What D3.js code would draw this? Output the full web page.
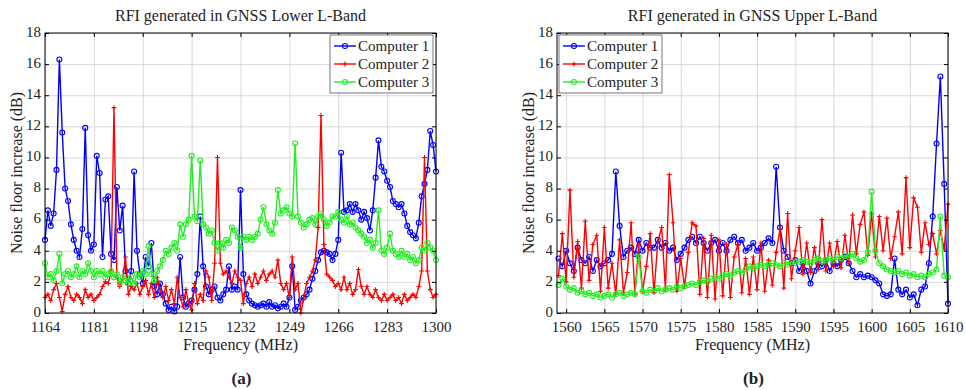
<!DOCTYPE html>
<html>
<head>
<meta charset="utf-8">
<script src="https://cdn.jsdelivr.net/npm/d3@7"></script>
<style>
  body { margin: 0; background: #fff; }
  text { font-family: "Liberation Serif", "Times New Roman", serif; fill: #222; }
</style>
</head>
<body>
<svg id="chart" width="966" height="390"></svg>
<script>
// ---- data (noise floor increase in dB) ----
const seriesNames = ["Computer 1", "Computer 2", "Computer 3"];
const seriesColors = ["#0000ff", "#ff0000", "#22ee22"];
const yTicks = [0, 2, 4, 6, 8, 10, 12, 14, 16, 18];

// lower L-band, 1164..1300 MHz every 1 MHz
const leftFreq = d3.range(1164, 1301, 1);
const leftTicks = [1164, 1181, 1198, 1215, 1232, 1249, 1266, 1283, 1300];
const leftC1 = [
  4.7, 6.6, 5.6, 6.4, 9.2, 16.3, 11.6, 8.0, 7.2, 5.7,   // 1164
  4.7, 4.0, 3.6, 5.4, 11.9, 5.0, 4.0, 4.4, 10.1, 9.0,   // 1174
  3.6, 7.3, 7.5, 3.8, 3.4, 8.1, 5.3, 6.9, 2.7, 1.9,     // 1184
  2.7, 9.1, 4.0, 2.5, 1.9, 3.6, 3.0, 4.5, 1.7, 1.2,     // 1194
  1.9, 1.2, 0.6, 0.2, 0.4, 0.1, 0.4, 3.6, 1.0, 0.4,     // 1204
  0.6, 0.8, 1.5, 2.5, 6.2, 3.0, 1.7, 1.2, 1.5, 1.7,     // 1214
  1.0, 0.8, 1.2, 1.5, 3.0, 1.5, 1.7, 1.5, 7.9, 2.5,     // 1224
  1.2, 0.8, 0.6, 0.5, 0.4, 0.5, 0.6, 0.4, 0.7, 0.4,     // 1234
  0.5, 0.3, 0.4, 0.6, 0.4, 1.0, 3.0, 0.2, 0.4, 0.8,     // 1244
  1.0, 1.2, 1.5, 2.2, 2.7, 3.4, 3.9, 4.0, 3.9, 3.8,     // 1254
  3.4, 3.8, 4.7, 10.3, 6.5, 6.6, 7.0, 6.5, 7.0, 6.6,    // 1264
  6.0, 6.5, 6.1, 5.3, 6.6, 8.7, 11.1, 9.4, 9.1, 8.5,    // 1274
  8.1, 7.2, 7.0, 6.8, 7.0, 6.4, 5.6, 5.2, 5.0, 4.8,     // 1284
  5.8, 7.5, 8.3, 9.2, 11.7, 10.8, 9.1                   // 1294
];
const leftC2 = [
  1.0, 1.2, 0.8, 1.5, 1.9, 1.0, 0.1, 1.2, 1.7, 1.0,
  0.8, 1.2, 1.0, 0.6, 1.5, 1.0, 1.2, 0.8, 1.0, 1.2,
  1.7, 2.0, 1.9, 2.7, 13.2, 2.3, 1.7, 2.2, 3.6, 1.2,
  1.7, 1.5, 1.9, 1.2, 1.7, 2.1, 1.2, 1.9, 1.0, 2.3,
  1.5, 1.0, 1.7, 0.8, 1.5, 0.6, 2.3, 1.0, 0.4, 1.5,
  0.6, 0.2, 1.9, 0.6, 1.2, 0.8, 2.7, 2.3, 0.8, 3.2,
  10.0, 3.2, 2.5, 2.7, 2.3, 1.9, 2.7, 2.3, 2.1, 0.6,
  1.9, 2.3, 1.7, 2.5, 1.9, 2.3, 2.7, 2.1, 2.5, 2.7,
  2.3, 3.4, 1.9, 1.5, 1.9, 1.0, 3.6, 1.5, 1.9, 0.0,
  1.0, 1.9, 2.3, 2.7, 3.4, 5.5, 12.7, 4.4, 2.5, 2.3,
  2.1, 1.7, 1.9, 1.5, 2.3, 1.5, 1.9, 1.2, 1.5, 2.8,
  1.7, 1.2, 1.7, 1.2, 1.0, 1.5, 1.0, 0.8, 1.2, 0.8,
  1.0, 1.2, 0.8, 1.0, 0.6, 1.2, 0.8, 1.0, 1.2, 1.0,
  1.7, 2.7, 10.0, 2.7, 1.5, 1.0, 1.2
];
const leftC3 = [
  3.2, 2.3, 2.5, 2.1, 2.7, 3.8, 1.9, 2.5, 2.7, 2.3,
  2.5, 3.0, 2.3, 2.7, 2.5, 3.2, 2.7, 2.3, 2.7, 2.5,
  2.7, 2.3, 2.5, 2.7, 2.3, 2.5, 1.9, 2.3, 2.1, 1.9,
  2.3, 1.9, 2.5, 2.3, 2.7, 2.5, 4.3, 2.5, 2.1, 2.7,
  3.0, 3.4, 4.0, 3.8, 4.2, 4.5, 4.0, 5.7, 4.9, 5.7,
  6.0, 10.1, 6.2, 5.9, 9.8, 5.7, 5.5, 5.1, 5.3, 4.5,
  4.0, 4.5, 4.2, 4.7, 4.5, 5.5, 5.3, 4.9, 4.2, 4.9,
  4.7, 4.9, 4.7, 4.9, 5.1, 6.0, 6.8, 5.7, 5.3, 5.1,
  5.8, 7.9, 6.4, 6.6, 6.8, 6.4, 6.2, 10.9, 6.2, 5.8,
  5.5, 5.7, 6.0, 6.1, 5.7, 6.2, 6.4, 6.0, 5.6, 5.8,
  6.2, 6.2, 6.5, 6.0, 5.8, 6.2, 5.7, 5.8, 5.5, 5.3,
  5.1, 4.9, 4.5, 4.7, 4.2, 4.5, 6.6, 4.0, 3.8, 4.2,
  5.1, 4.0, 3.8, 3.6, 4.0, 3.6, 3.8, 3.4, 3.6, 3.2,
  3.4, 4.2, 4.0, 4.5, 4.2, 4.0, 3.4
];

// upper L-band, 1559..1610 MHz every 0.5 MHz
const rightFreq = d3.range(1559, 1610.01, 0.5);
const rightTicks = [1560, 1565, 1570, 1575, 1580, 1585, 1590, 1595, 1600, 1605, 1610];
const rightC1 = [
  3.5, 3.0, 4.0, 3.2, 2.7, 4.2, 3.4, 3.2, 3.6, 2.7,     // 1559
  3.4, 3.0, 3.2, 3.4, 3.8, 9.1, 5.6, 3.6, 4.0, 4.2,     // 1564
  3.8, 4.7, 4.0, 4.5, 4.2, 4.2, 4.7, 4.2, 4.5, 4.0,     // 1569
  4.2, 3.4, 3.8, 4.2, 4.7, 4.9, 4.5, 4.9, 4.5, 4.0,     // 1574
  4.5, 4.7, 4.0, 4.5, 4.0, 4.7, 4.9, 4.5, 4.7, 4.0,     // 1579
  4.2, 4.5, 4.0, 4.2, 4.5, 4.8, 4.5, 9.4, 5.5, 4.0,     // 1584
  3.6, 3.2, 3.4, 2.7, 3.2, 2.7, 1.9, 2.7, 3.2, 3.0,     // 1589
  3.4, 2.7, 3.2, 3.0, 3.4, 3.6, 3.2, 2.7, 2.3, 2.5,     // 1594
  2.3, 2.4, 2.3, 2.1, 1.9, 1.2, 1.1, 1.2, 3.5, 1.5,     // 1599
  1.2, 1.5, 1.0, 1.2, 0.5, 1.5, 1.7, 3.2, 6.2, 10.9,    // 1604
  15.2, 8.3, 0.6                                        // 1609
];
const rightC2 = [
  2.4, 5.1, 2.0, 7.9, 2.3, 4.6, 1.6, 5.9, 2.1, 4.4,
  5.0, 1.4, 5.5, 1.6, 3.2, 1.2, 4.7, 1.3, 2.6, 5.8,
  1.2, 4.4, 1.4, 3.0, 5.1, 1.3, 4.6, 5.5, 1.5, 8.9,
  5.8, 1.4, 3.5, 1.7, 3.9, 5.8, 5.6, 1.2, 4.8, 1.0,
  5.0, 0.9, 4.7, 1.1, 4.4, 1.0, 3.6, 4.4, 1.3, 3.5,
  1.2, 3.6, 1.5, 4.5, 1.4, 3.4, 1.8, 3.9, 5.4, 1.6,
  6.4, 2.2, 4.0, 5.5, 2.5, 4.5, 2.6, 4.2, 2.8, 6.0,
  2.7, 4.5, 3.0, 4.6, 2.9, 5.0, 3.2, 6.3, 3.8, 5.7,
  6.5, 3.7, 6.4, 3.6, 6.2, 4.0, 6.1, 3.5, 4.9, 6.5,
  3.8, 8.7, 4.2, 7.4, 6.8, 3.9, 5.8, 4.4, 5.1, 3.8,
  5.3, 4.1, 7.0
];
const rightC3 = [
  1.8, 2.2, 1.7, 1.5, 1.6, 1.3, 1.4, 1.2, 1.3, 1.1,
  1.2, 1.0, 1.1, 1.2, 1.0, 1.2, 1.3, 1.1, 1.2, 1.3,
  1.2, 3.6, 1.4, 1.3, 1.5, 1.4, 1.6, 1.4, 1.5, 1.6,
  1.5, 1.7, 1.6, 1.7, 1.8, 1.9, 1.8, 2.0, 2.1, 2.0,
  2.2, 2.3, 2.2, 2.4, 2.5, 2.4, 2.6, 2.7, 2.6, 2.8,
  3.0, 2.9, 3.0, 3.1, 3.0, 3.1, 3.2, 3.1, 3.0, 3.2,
  3.1, 3.3, 3.2, 3.3, 3.4, 3.3, 3.2, 3.4, 3.5, 3.3,
  3.4, 3.5, 3.4, 3.6, 3.5, 3.7, 3.6, 3.8, 3.5, 3.3,
  3.4, 3.9, 7.8, 4.0, 3.2, 3.0, 2.8, 2.7, 2.6, 2.7,
  2.5, 2.6, 2.4, 2.5, 2.3, 2.4, 2.3, 2.5, 2.6, 2.8,
  6.2, 2.4, 2.3
];

// ---- layout ----
const plotTop = 33, plotBottom = 313;
const svg = d3.select("#chart");

const panels = [
  { left: 45, right: 436, domain: [1164, 1300], ticks: leftTicks, freq: leftFreq,
    values: [leftC1, leftC2, leftC3], title: "RFI generated in GNSS Lower L-Band",
    tag: "(a)", legendX: 330, ylabelX: 16 },
  { left: 557, right: 948, domain: [1558.8, 1610], ticks: rightTicks, freq: rightFreq,
    values: [rightC1, rightC2, rightC3], title: "RFI generated in GNSS Upper L-Band",
    tag: "(b)", legendX: 559, ylabelX: 528 }
];

function styleTicks(sel) {
  sel.select(".domain").remove();
  sel.selectAll("text").style("font-family", "'Liberation Serif', serif")
    .style("font-size", "15px").attr("fill", "#222");
  sel.selectAll("line").attr("stroke", "#000");
}

function drawMarker(g, kind, cx, cy, color) {
  if (kind === "plus") {
    g.append("path")
      .attr("d", `M${cx - 2.4},${cy}H${cx + 2.4}M${cx},${cy - 2.4}V${cy + 2.4}`)
      .attr("stroke", color).attr("stroke-width", 1.1);
  } else {
    g.append("circle").attr("cx", cx).attr("cy", cy).attr("r", 2.5)
      .attr("fill", "none").attr("stroke", color).attr("stroke-width", 1.1);
  }
}

function drawPanel(p) {
  const x = d3.scaleLinear().domain(p.domain).range([p.left, p.right]);
  const y = d3.scaleLinear().domain([0, 18]).range([plotBottom, plotTop]);
  const h = plotBottom - plotTop, w = p.right - p.left;
  const g = svg.append("g");

  // grid
  g.append("g").attr("transform", `translate(0,${plotBottom})`)
    .call(d3.axisBottom(x).tickValues(p.ticks).tickSize(-h).tickFormat(""))
    .call(s => s.select(".domain").remove())
    .selectAll("line").attr("stroke", "#cfcfcf").attr("stroke-width", 0.8);
  g.append("g").attr("transform", `translate(${p.left},0)`)
    .call(d3.axisLeft(y).tickValues(yTicks).tickSize(-w).tickFormat(""))
    .call(s => s.select(".domain").remove())
    .selectAll("line").attr("stroke", "#cfcfcf").attr("stroke-width", 0.8);

  // series
  const line = d3.line().x(d => x(d[0])).y(d => y(d[1]));
  p.values.forEach((vals, k) => {
    const pts = vals.map((v, i) => [p.freq[i], v]);
    const sg = g.append("g");
    sg.append("path").datum(pts).attr("d", line)
      .attr("fill", "none").attr("stroke", seriesColors[k]).attr("stroke-width", 1.4);
    pts.forEach(d => drawMarker(sg, k === 1 ? "plus" : "circle", x(d[0]), y(d[1]), seriesColors[k]));
  });

  // axes, ticks inward on all sides
  const fmt = d3.format("d");
  g.append("g").attr("transform", `translate(0,${plotBottom})`)
    .call(d3.axisBottom(x).tickValues(p.ticks).tickFormat(fmt).tickSize(-4).tickPadding(8)).call(styleTicks);
  g.append("g").attr("transform", `translate(0,${plotTop})`)
    .call(d3.axisTop(x).tickValues(p.ticks).tickSize(-4).tickFormat("")).call(styleTicks);
  g.append("g").attr("transform", `translate(${p.left},0)`)
    .call(d3.axisLeft(y).tickValues(yTicks).tickFormat(fmt).tickSize(-4).tickPadding(4)).call(styleTicks)
    .selectAll("text").attr("dy", "0.22em");
  g.append("g").attr("transform", `translate(${p.right},0)`)
    .call(d3.axisRight(y).tickValues(yTicks).tickSize(-4).tickFormat("")).call(styleTicks);
  g.append("rect").attr("x", p.left).attr("y", plotTop).attr("width", w).attr("height", h)
    .attr("fill", "none").attr("stroke", "#000").attr("stroke-width", 1);

  // legend
  const lg = g.append("g").attr("transform", `translate(${p.legendX},35)`);
  lg.append("rect").attr("width", 103).attr("height", 58)
    .attr("fill", "#fff").attr("stroke", "#555").attr("stroke-width", 0.8);
  seriesNames.forEach((name, k) => {
    const ly = 11 + k * 18;
    lg.append("line").attr("x1", 4).attr("x2", 26).attr("y1", ly).attr("y2", ly)
      .attr("stroke", seriesColors[k]).attr("stroke-width", 1.4);
    drawMarker(lg, k === 1 ? "plus" : "circle", 15, ly, seriesColors[k]);
    lg.append("text").attr("x", 28).attr("y", ly + 5).style("font-size", "15px").text(name);
  });

  // labels
  const cx = (p.left + p.right) / 2;
  g.append("text").attr("x", cx).attr("y", 21).attr("text-anchor", "middle")
    .style("font-size", "16px").text(p.title);
  g.append("text").attr("x", cx).attr("y", 350).attr("text-anchor", "middle")
    .style("font-size", "16px").text("Frequency (MHz)");
  g.append("text").attr("transform", `translate(${p.ylabelX},${(plotTop + plotBottom) / 2}) rotate(-90)`)
    .attr("dy", "0.35em").attr("text-anchor", "middle")
    .style("font-size", "16px").text("Noise floor increase (dB)");
  g.append("text").attr("x", cx + 1).attr("y", 384).attr("text-anchor", "middle")
    .style("font-size", "17px").style("font-weight", "bold").attr("fill", "#111").text(p.tag);
}

panels.forEach(drawPanel);
</script>
</body>
</html>
